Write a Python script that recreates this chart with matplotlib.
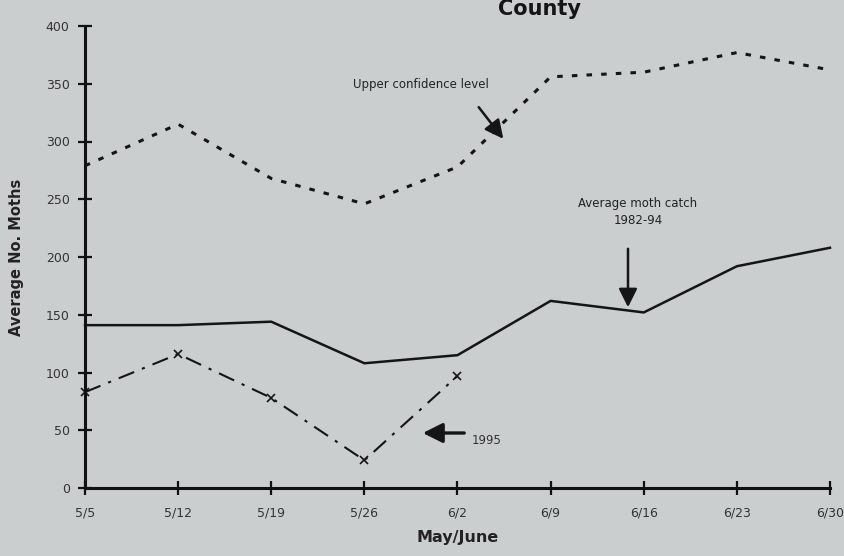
import matplotlib.pyplot as plt

# dates (weeks of May/June) and readings
dates = ['5/5', '5/12', '5/19', '5/26', '6/2', '6/9', '6/16', '6/23', '6/30']
upper_conf = [279, 315, 268, 246, 278, 356, 360, 377, 362]
avg_catch = [141, 141, 144, 108, 115, 162, 152, 192, 208]
y1995 = [83, 116, 78, 24, 97]

W, H = 845, 556
bg = '#cbcecf'

def fpx(x, y):
    # figure pixel (from top-left) -> figure fraction
    return (x / W, 1 - y / H)

fig = plt.figure(figsize=(W / 100, H / 100), dpi=100, facecolor=bg)
ax = fig.add_axes([85 / W, 1 - 488 / H, 745 / W, 462 / H])
ax.set_facecolor(bg)

xpos = list(range(len(dates)))
ax.plot(xpos, upper_conf, color='#151515', lw=2.2, linestyle=(0, (1.8, 3.0)),
        clip_on=False)
ax.plot(xpos, avg_catch, color='#151515', lw=1.8, clip_on=False)
ax.plot(xpos[:len(y1995)], y1995, color='#151515', lw=1.5,
        linestyle=(0, (8, 4, 1.5, 4)), marker='x', ms=6, mew=1.2, clip_on=False)

ax.set_xlim(0, len(dates) - 1)
ax.set_ylim(0, 400)
ax.set_yticks(range(0, 401, 50))
ax.set_xticks(xpos)
ax.set_xticklabels(dates)

for s in ['top', 'right']:
    ax.spines[s].set_visible(False)
for s in ['left', 'bottom']:
    ax.spines[s].set_linewidth(2.2)
    ax.spines[s].set_color('#111111')
ax.tick_params(direction='inout', length=10, width=1.6, color='#111111',
               labelsize=9, labelcolor='#333333')
ax.tick_params(axis='x', pad=8)
ax.tick_params(axis='y', pad=6)

ax.set_ylabel('Average No. Moths', fontsize=10.5, fontweight='bold',
              color='#222222', labelpad=16)
ax.set_xlabel('May/June', fontsize=11.5, fontweight='bold', color='#222222',
              labelpad=8)

# title at the top edge
fig.text(*fpx(498, 15), 'County', fontsize=15, fontweight='bold',
         color='#151515', ha='left', va='baseline')

# annotations
fig.text(*fpx(421, 85), 'Upper confidence level', fontsize=8.5,
         color='#222222', ha='center', va='center')
ax.annotate('', xy=fpx(505, 141), xytext=fpx(477, 105),
            xycoords='figure fraction', textcoords='figure fraction',
            arrowprops=dict(arrowstyle='-|>', color='#151515', lw=1.8,
                            mutation_scale=28))

fig.text(*fpx(638, 203), 'Average moth catch', fontsize=8.5,
         color='#222222', ha='center', va='center')
fig.text(*fpx(638, 220), '1982-94', fontsize=8.5,
         color='#222222', ha='center', va='center')
ax.annotate('', xy=fpx(628, 310), xytext=fpx(628, 246),
            xycoords='figure fraction', textcoords='figure fraction',
            arrowprops=dict(arrowstyle='-|>', color='#151515', lw=1.8,
                            mutation_scale=28))

fig.text(*fpx(472, 440), '1995', fontsize=8.5, color='#333333',
         ha='left', va='center')
ax.annotate('', xy=fpx(420, 433), xytext=fpx(467, 433),
            xycoords='figure fraction', textcoords='figure fraction',
            arrowprops=dict(arrowstyle='-|>', color='#151515', lw=2.4,
                            mutation_scale=30))

fig.savefig('out.png', dpi=100, facecolor=bg)
